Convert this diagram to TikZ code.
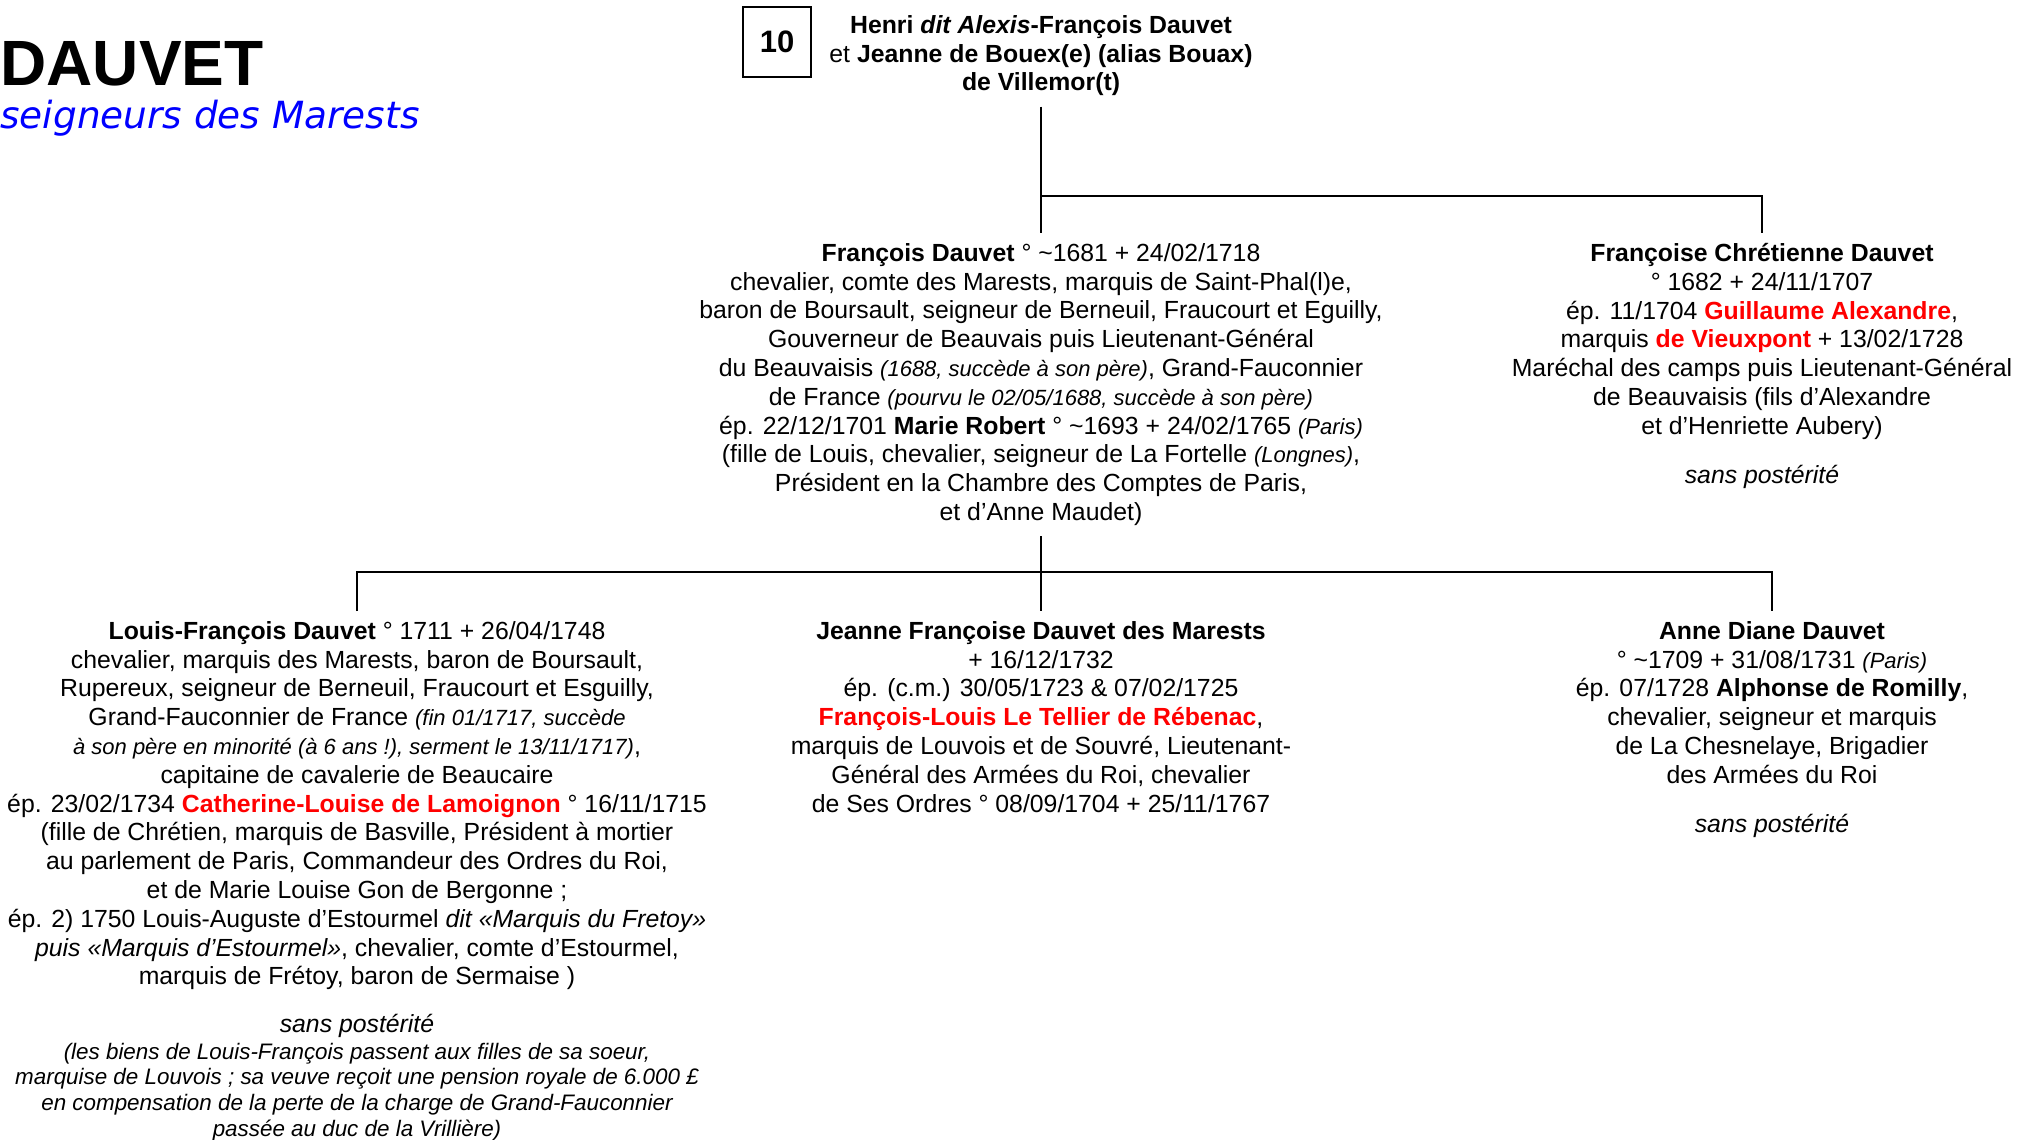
\documentclass[tikz,border=0pt]{standalone}
\usepackage{fontspec}
\setmainfont{Liberation Sans}
\newfontfamily\soustitrefont{DejaVu Sans}
\usetikzlibrary{positioning}

\newcommand{\nomrouge}[1]{\textcolor{red}{\textbf{#1}}}
\newcommand{\precis}[1]{{\fontsize{11}{12}\selectfont\itshape #1}}

\begin{document}
\begin{tikzpicture}[x=0.5pt, y=-0.5pt,
    bloc/.style={align=center, anchor=north, inner xsep=0pt, inner ysep=5pt,
        font=\fontsize{12.4}{14.4}\selectfont},
    lien/.style={line width=0.9pt}]
    \useasboundingbox (0,0) rectangle (2030,1140);

    \node[anchor=base west, inner sep=0pt, font=\fontsize{32}{36}\selectfont\bfseries] (titre) at (0,85) {DAUVET};
    \node[anchor=base west, inner sep=0pt, text=blue, font=\soustitrefont\fontsize{18.7}{22}\selectfont\itshape] (soustitre) at (0,128) {seigneurs des Marests};

    \node[draw, line width=0.6pt, minimum width=34pt, minimum height=35pt,
        font=\fontsize{15.5}{18}\selectfont\bfseries] (numero) at (777,42) {10};

    \node[bloc] (parents) at (1041,5) {\textbf{Henri \textit{dit Alexis}-François Dauvet}\\
        et \textbf{Jeanne de Bouex(e) (alias Bouax)}\\
        \textbf{de Villemor(t)}};

    \node[bloc] (francois) at (1041,233) {\textbf{François Dauvet} ° \textasciitilde 1681 + 24/02/1718\\
        chevalier, comte des Marests, marquis de Saint-Phal(l)e,\\
        baron de Boursault, seigneur de Berneuil, Fraucourt et Eguilly,\\
        Gouverneur de Beauvais puis Lieutenant-Général\\
        du Beauvaisis \precis{(1688, succède à son père)}, Grand-Fauconnier\\
        de France \precis{(pourvu le 02/05/1688, succède à son père)}\\
        ép. 22/12/1701 \textbf{Marie Robert} ° \textasciitilde 1693 + 24/02/1765 \precis{(Paris)}\\
        (fille de Louis, chevalier, seigneur de La Fortelle \precis{(Longnes)},\\
        Président en la Chambre des Comptes de Paris,\\
        et d’Anne Maudet)};

    \node[bloc] (francoise) at (1762,233) {\textbf{Françoise Chrétienne Dauvet}\\
        ° 1682 + 24/11/1707\\
        ép. 11/1704 \nomrouge{Guillaume Alexandre},\\
        marquis \nomrouge{de Vieuxpont} + 13/02/1728\\
        Maréchal des camps puis Lieutenant-Général\\
        de Beauvaisis (fils d’Alexandre\\
        et d’Henriette Aubery)\\[10pt]
        \textit{sans postérité}};

    \node[bloc] (louis) at (357,611) {\textbf{Louis-François Dauvet} ° 1711 + 26/04/1748\\
        chevalier, marquis des Marests, baron de Boursault,\\
        Rupereux, seigneur de Berneuil, Fraucourt et Esguilly,\\
        Grand-Fauconnier de France \precis{(fin 01/1717, succède}\\
        \precis{à son père en minorité (à 6 ans !), serment le 13/11/1717)},\\
        capitaine de cavalerie de Beaucaire\\
        ép. 23/02/1734 \nomrouge{Catherine-Louise de Lamoignon} ° 16/11/1715\\
        (fille de Chrétien, marquis de Basville, Président à mortier\\
        au parlement de Paris, Commandeur des Ordres du Roi,\\
        et de Marie Louise Gon de Bergonne ;\\
        ép. 2) 1750 Louis-Auguste d’Estourmel \textit{dit «Marquis du Fretoy»}\\
        \textit{puis «Marquis d’Estourmel»}, chevalier, comte d’Estourmel,\\
        marquis de Frétoy, baron de Sermaise )\\[9.6pt]
        \textit{sans postérité}};
    \node[align=center, inner sep=0pt, below=-3pt of louis,
        font=\fontsize{11.2}{12.9}\selectfont\itshape] (louisnote) {(les biens de Louis-François passent aux filles de sa soeur,\\
        marquise de Louvois ; sa veuve reçoit une pension royale de 6.000 £\\
        en compensation de la perte de la charge de Grand-Fauconnier\\
        passée au duc de la Vrillière)};

    \node[bloc] (jeanne) at (1041,611) {\textbf{Jeanne Françoise Dauvet des Marests}\\
        + 16/12/1732\\
        ép. (c.m.) 30/05/1723 \& 07/02/1725\\
        \nomrouge{François-Louis Le Tellier de Rébenac},\\
        marquis de Louvois et de Souvré, Lieutenant-\\
        Général des Armées du Roi, chevalier\\
        de Ses Ordres ° 08/09/1704 + 25/11/1767};

    \node[bloc] (anne) at (1772,611) {\textbf{Anne Diane Dauvet}\\
        ° \textasciitilde 1709 + 31/08/1731 \precis{(Paris)}\\
        ép. 07/1728 \textbf{Alphonse de Romilly},\\
        chevalier, seigneur et marquis\\
        de La Chesnelaye, Brigadier\\
        des Armées du Roi\\[10pt]
        \textit{sans postérité}};

    \coordinate (haut) at (1041,196);
    \coordinate (bas) at (1041,572);
    \draw[lien] (parents.south) -- (haut) -| (francoise.north);
    \draw[lien] (haut) -- (francois.north);
    \draw[lien] (francois.south) -- (bas);
    \draw[lien] (louis.north) |- (bas) -| (anne.north);
    \draw[lien] (bas) -- (jeanne.north);
\end{tikzpicture}
\end{document}
